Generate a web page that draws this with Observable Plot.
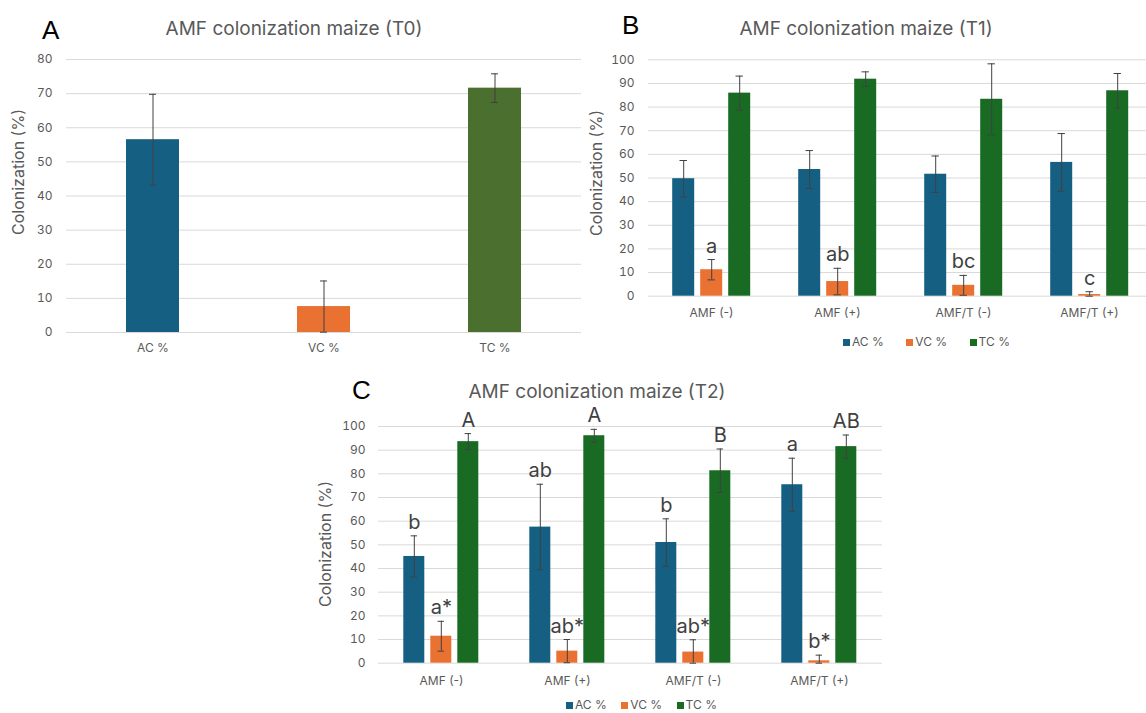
<!DOCTYPE html>
<html>
<head>
<meta charset="utf-8">
<script src="https://cdn.jsdelivr.net/npm/d3@7"></script>
<script src="https://cdn.jsdelivr.net/npm/@observablehq/plot@0.6"></script>
<style>
  html, body { margin: 0; padding: 0; background: #fff; overflow: hidden; }
  #root { position: relative; width: 1146px; height: 713px; overflow: hidden; font-family: Inter, "Noto Sans", sans-serif; }
  .abs { position: absolute; }
  .title { color: #595959; font-size: 19px; line-height: 1; white-space: nowrap; transform: translate(-50%, -50%); }
  .letter { color: #000; font-size: 26px; line-height: 1; white-space: nowrap; font-family: "Liberation Sans", Arial, sans-serif; }
  .ylab { color: #595959; font-size: 16px; line-height: 1; white-space: nowrap; transform: translate(-50%, -50%) rotate(-90deg); }
  .legend { display: flex; align-items: center; color: #595959; font-size: 12px; line-height: 1; transform: translateY(-50%); }
  .legend .item { display: flex; align-items: center; }
  .legend .sw { width: 7px; height: 7px; margin-right: 2px; }
</style>
</head>
<body>
<div id="root"></div>
<script>
// ---------- data ----------
const seriesNames = ["AC %", "VC %", "TC %"];
const groups = ["AMF (-)", "AMF (+)", "AMF/T (-)", "AMF/T (+)"];

// T0 (panel A)
const t0Mean = [56.5, 7.6, 71.6];
const t0Err  = [13.3, 7.5, 4.2];

// T1 (panel B)
const t1AC = [49.7, 53.6, 51.6, 56.6];
const t1ACerr = [7.7, 8.0, 7.7, 12.2];
const t1VC = [11.2, 6.2, 4.6, 0.7];
const t1VCerr = [4.3, 5.6, 4.2, 1.2];
const t1TC = [85.9, 91.8, 83.3, 86.9];
const t1TCerr = [7.2, 3.1, 15.0, 7.3];
const t1VClabels = ["a", "ab", "bc", "c"];

// T2 (panel C)
const t2AC = [45.1, 57.5, 51.0, 75.4];
const t2ACerr = [8.7, 18.1, 10.0, 11.2];
const t2VC = [11.4, 5.1, 4.7, 1.0];
const t2VCerr = [6.3, 4.9, 5.2, 2.4];
const t2TC = [93.6, 96.1, 81.3, 91.5];
const t2TCerr = [3.4, 2.7, 9.2, 4.9];
const t2AClabels = ["b", "ab", "b", "a"];
const t2VClabels = ["a*", "ab*", "ab*", "b*"];
const t2TClabels = ["A", "A", "B", "AB"];

const yTicks100 = d3.range(0, 101, 10);
const yTicks80 = d3.range(0, 81, 10);

// ---------- helpers ----------
const FONT = 'Inter, "Noto Sans", sans-serif';
const colorsBC = ["#156082", "#E97132", "#196B24"];
const colorsA = ["#156082", "#E97132", "#4B6F2E"];
const GRID = "#d9d9d9";
const ERR = "#404040";

function buildRows(seriesVals, seriesErrs, seriesLabels) {
  const rows = [];
  groups.forEach((g, gi) => {
    seriesNames.forEach((s, si) => {
      const v = seriesVals[si][gi], e = seriesErrs[si][gi];
      rows.push({group: g, series: s, value: v, lo: Math.max(0, v - e), hi: v + e,
                 label: seriesLabels[si] ? seriesLabels[si][gi] : ""});
    });
  });
  return rows;
}

const root = document.getElementById("root");
function place(el, left, top) {
  el.style.position = "absolute"; el.style.left = left + "px"; el.style.top = top + "px";
  root.appendChild(el);
  return el;
}
function html(cls, text, left, top) {
  const d = document.createElement("div");
  d.className = cls; d.textContent = text;
  return place(d, left, top);
}
function legend(left, top, gap) {
  const d = document.createElement("div");
  d.className = "legend"; d.style.gap = gap + "px";
  seriesNames.forEach((s, i) => {
    const it = document.createElement("div"); it.className = "item";
    const sw = document.createElement("span"); sw.className = "sw"; sw.style.background = colorsBC[i];
    const tx = document.createElement("span"); tx.textContent = s;
    it.appendChild(sw); it.appendChild(tx); d.appendChild(it);
  });
  return place(d, left, top);
}

// ---------- Panel A ----------
const rowsA = seriesNames.map((s, i) => ({series: s, value: t0Mean[i], lo: Math.max(0, t0Mean[i] - t0Err[i]), hi: t0Mean[i] + t0Err[i]}));
const plotA = Plot.plot({
  width: 600, height: 370,
  marginLeft: 66, marginRight: 19, marginTop: 59, marginBottom: 38,
  style: {fontFamily: FONT, fontSize: "12px", color: "#595959", background: "transparent", overflow: "visible"},
  x: {domain: seriesNames, paddingInner: 0.69, paddingOuter: 0.345, label: null},
  y: {domain: [0, 80], label: null},
  color: {domain: seriesNames, range: colorsA},
  marks: [
    Plot.gridY(yTicks80.slice(1), {stroke: GRID, strokeOpacity: 1}),
    Plot.ruleY([0], {stroke: GRID}),
    Plot.axisY(yTicks80, {tickSize: 0, tickPadding: 14, label: null}),
    Plot.axisX({tickSize: 0, tickPadding: 11, label: null}),
    Plot.barY(rowsA, {x: "series", y: "value", fill: "series"}),
    Plot.ruleX(rowsA, {x: "series", y1: "lo", y2: "hi", stroke: ERR, strokeWidth: 1}),
    Plot.tickY(rowsA, {x: "series", y: "hi", stroke: ERR, insetLeft: 23, insetRight: 23}),
    Plot.tickY(rowsA, {x: "series", y: "lo", stroke: ERR, insetLeft: 23, insetRight: 23})
  ]
});
place(plotA, 0, 0);
html("letter", "A", 42, 17);
html("title", "AMF colonization maize (T0)", 294, 28);
html("ylab", "Colonization (%)", 18, 172);

// ---------- Panel B ----------
const rowsB = buildRows([t1AC, t1VC, t1TC], [t1ACerr, t1VCerr, t1TCerr], [null, t1VClabels, null]);
function groupedPlot(rows, opts) {
  return Plot.plot({
    width: opts.width, height: opts.height,
    marginLeft: opts.ml, marginRight: opts.mr, marginTop: opts.mt, marginBottom: opts.mb,
    style: {fontFamily: FONT, fontSize: "12px", color: "#595959", background: "transparent", overflow: "visible"},
    fx: {domain: groups, padding: 0, label: null},
    x: {domain: seriesNames, paddingInner: opts.pi, paddingOuter: opts.po, axis: null},
    y: {domain: [0, 100], label: null},
    color: {domain: seriesNames, range: colorsBC},
    marks: [
      Plot.gridY(yTicks100.slice(1), {stroke: GRID, strokeOpacity: 1}),
      Plot.ruleY([0], {stroke: GRID}),
      Plot.axisY(yTicks100, {tickSize: 0, tickPadding: opts.tp, label: null}),
      Plot.axisFx({anchor: "bottom", tickSize: 0, tickPadding: opts.fxp, label: null}),
      Plot.barY(rows, {fx: "group", x: "series", y: "value", fill: "series"}),
      Plot.ruleX(rows, {fx: "group", x: "series", y1: "lo", y2: "hi", stroke: ERR, strokeWidth: 1}),
      Plot.tickY(rows, {fx: "group", x: "series", y: "hi", stroke: ERR, insetLeft: 7.3, insetRight: 7.3}),
      Plot.tickY(rows, {fx: "group", x: "series", y: "lo", stroke: ERR, insetLeft: 7.3, insetRight: 7.3}),
      Plot.text(rows.filter(d => d.label), {fx: "group", x: "series", y: "hi", text: "label",
        lineAnchor: "bottom", dy: -7, fontSize: 20, fill: "#404040"})
    ]
  });
}
const plotB = groupedPlot(rowsB, {width: 590, height: 360, ml: 66.8, mr: 17.3, mt: 59.3, mb: 64.3,
  pi: 0.207, po: 0.82, tp: 14, fxp: 12});
place(plotB, 580, 0);
html("letter", "B", 622, 12);
html("title", "AMF colonization maize (T1)", 866, 28);
html("ylab", "Colonization (%)", 596, 173);
legend(843, 342, 22.5);

// ---------- Panel C ----------
const rowsC = buildRows([t2AC, t2VC, t2TC], [t2ACerr, t2VCerr, t2TCerr], [t2AClabels, t2VClabels, t2TClabels]);
const plotC = groupedPlot(rowsC, {width: 600, height: 353, ml: 76.7, mr: 16, mt: 66, mb: 50.3,
  pi: 0.216, po: 0.888, tp: 13, fxp: 13});
place(plotC, 300, 360);
html("letter", "C", 352, 377);
html("title", "AMF colonization maize (T2)", 597, 391);
html("ylab", "Colonization (%)", 325, 544);
legend(566, 705, 14.5);
</script>
</body>
</html>
